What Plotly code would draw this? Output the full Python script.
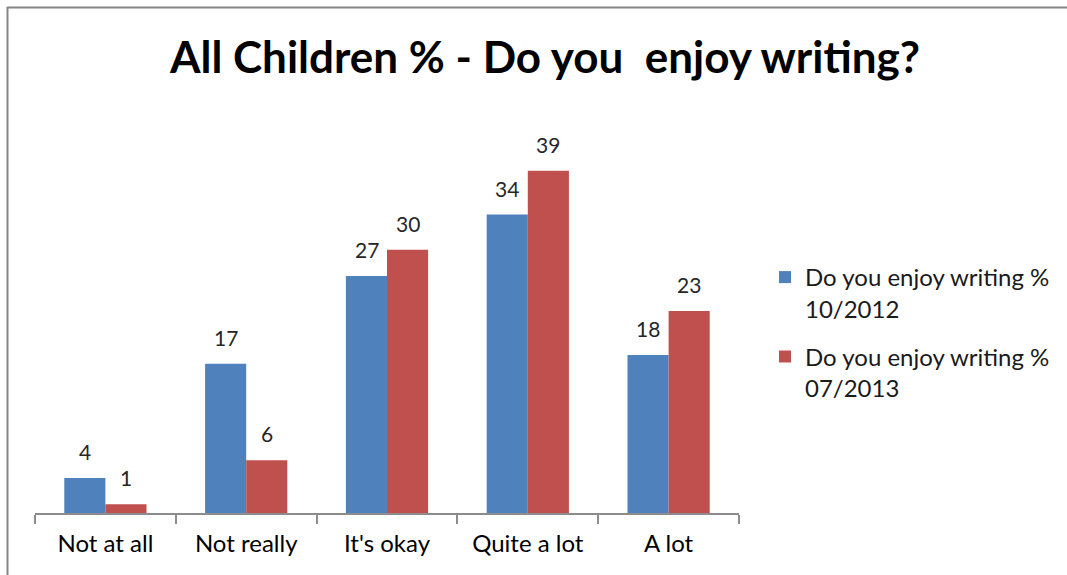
import plotly.graph_objects as go

categories = ["Not at all", "Not really", "It's okay", "Quite a lot", "A lot"]
series_2012 = [4, 17, 27, 34, 18]
series_2013 = [1, 6, 30, 39, 23]
name_2012 = "Do you enjoy writing %<br>10/2012"
name_2013 = "Do you enjoy writing %<br>07/2013"
title_text = "All Children % - Do you  enjoy writing?"

W, H = 1067, 575
L, R, T, B = 35, 739, 118, 513
BAR_PX = 41  # bar width in px (for label centering)

fig = go.Figure()
fig.add_trace(go.Bar(x=categories, y=series_2012, name=name_2012, legendgroup="a",
                     marker=dict(color="#4F81BD", line=dict(width=0))))
fig.add_trace(go.Bar(x=categories, y=series_2013, name=name_2013, legendgroup="b",
                     marker=dict(color="#C0504D", line=dict(width=0))))

annotations = []
for vals, sh in ((series_2012, -BAR_PX / 2), (series_2013, BAR_PX / 2)):
    for c, v in zip(categories, vals):
        annotations.append(dict(x=c, y=v, xref="x", yref="y", text=str(v), showarrow=False,
                                xanchor="center", yanchor="bottom", xshift=sh, yshift=12,
                                font=dict(family="Lato", size=21, color="#262626")))

fig.update_layout(
    width=W, height=H,
    margin=dict(l=L, r=W - R, t=T, b=H - B, pad=0, autoexpand=False),
    paper_bgcolor="white", plot_bgcolor="white",
    barmode="group", bargap=0.416, bargroupgap=0,
    title=dict(text="<b>" + title_text + "</b>", x=545 / W, xref="container", xanchor="center",
               y=1 - 58 / H, yref="container", yanchor="middle",
               font=dict(family="Lato", size=44, color="black")),
    font=dict(family="Lato", color="black"),
    legend=dict(x=(765 - L) / (R - L), xanchor="left", y=1 - (255 - T) / (B - T), yanchor="top",
                font=dict(family="Lato", size=24, color="#1a1a1a"), valign="top",
                tracegroupgap=14, bgcolor="rgba(0,0,0,0)"),
    showlegend=True,
    annotations=annotations,
)
fig.update_xaxes(type="category", showline=True, linecolor="#8C8C8C", linewidth=1.5,
                 ticks="outside", tickson="boundaries", ticklen=9, tickcolor="#8C8C8C", tickwidth=1.5,
                 tickfont=dict(family="Lato", size=24, color="black"), showgrid=False,
                 ticklabelstandoff=8, range=[-0.5, 4.5])
fig.update_yaxes(range=[0, 45], visible=False, showgrid=False)

# partial border (top and left edges)
fig.add_shape(type="line", xref="paper", yref="paper", x0=(7 - L) / (R - L), x1=(W - L) / (R - L),
              y0=1 + (T - 7.5) / (B - T), y1=1 + (T - 7.5) / (B - T),
              line=dict(color="#858585", width=2))
fig.add_shape(type="line", xref="paper", yref="paper", x0=(7.5 - L) / (R - L), x1=(7.5 - L) / (R - L),
              y0=1 + (T - 7) / (B - T), y1=-(H - B) / (B - T),
              line=dict(color="#858585", width=2))

fig.write_html("out.html", config={"displayModeBar": False},
               post_script="document.body.style.margin='0';document.body.style.overflow='hidden';")
